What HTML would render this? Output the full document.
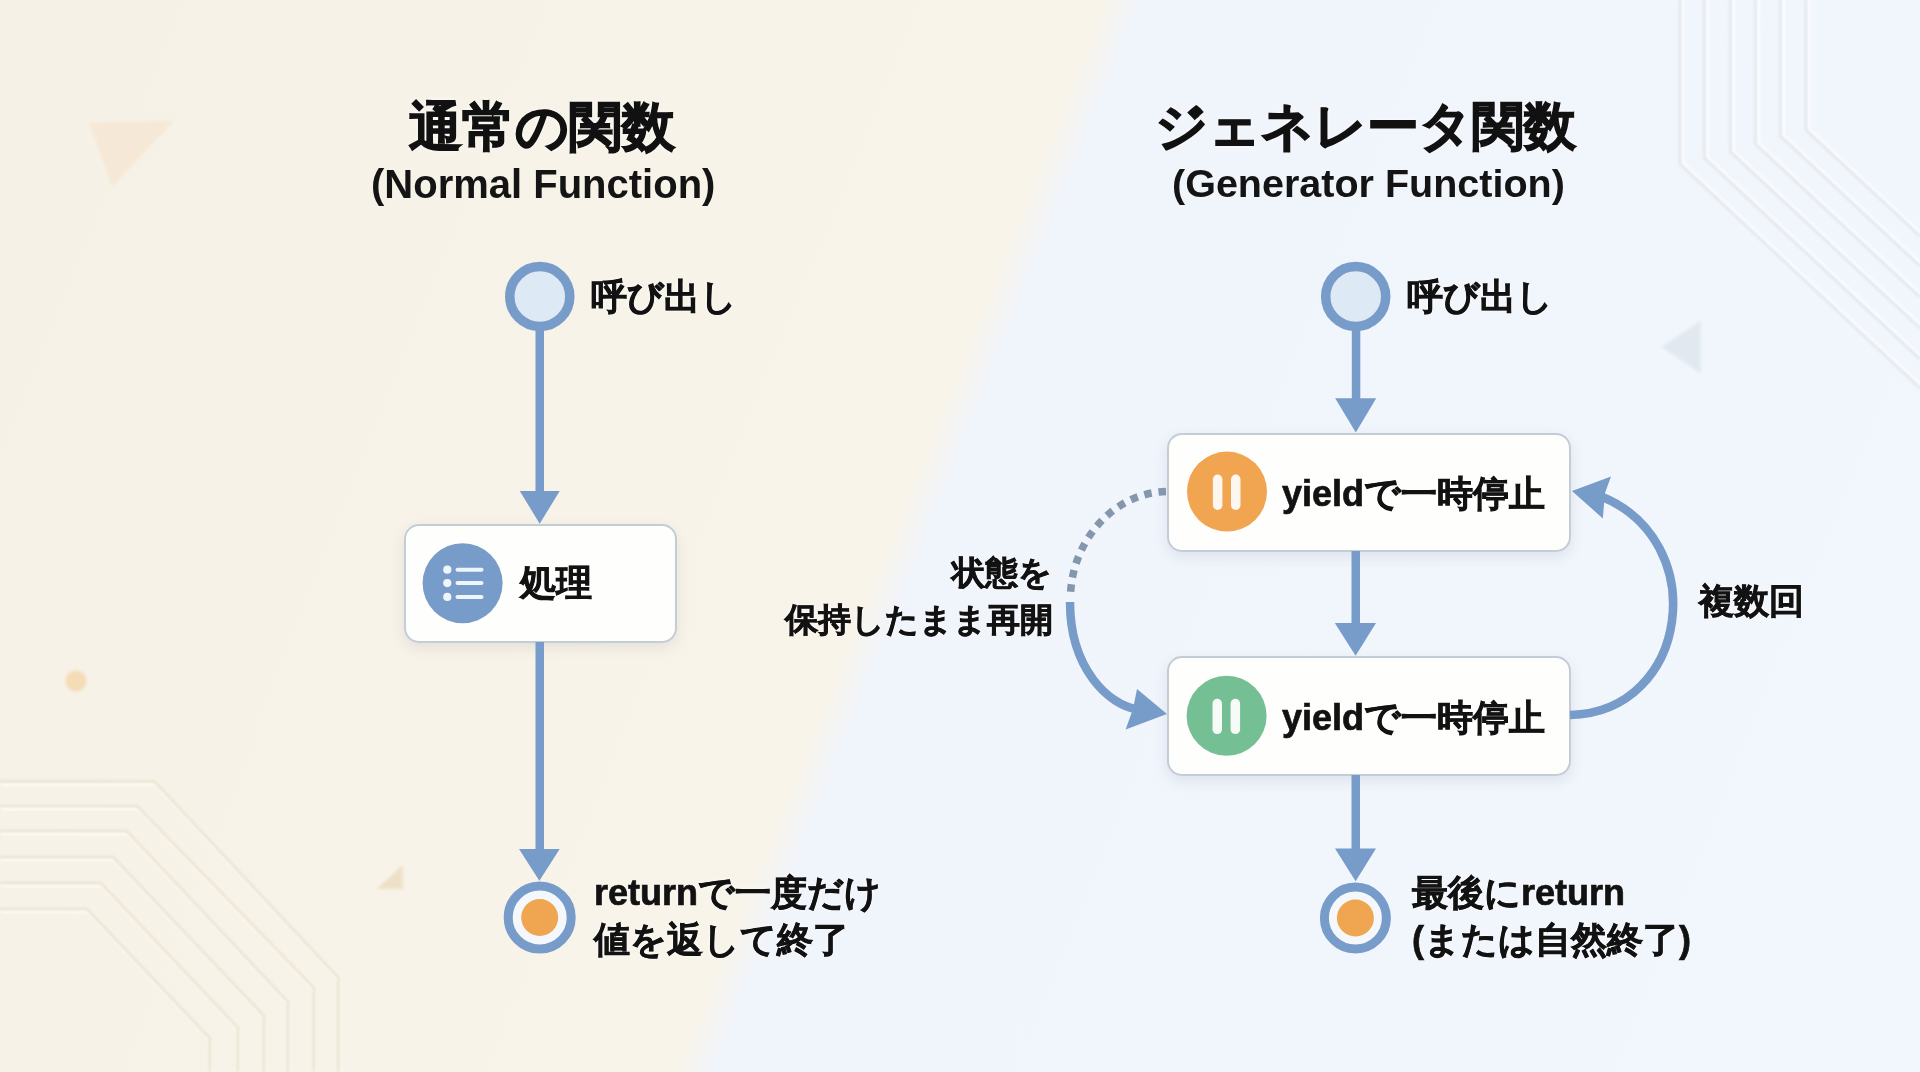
<!DOCTYPE html>
<html><head><meta charset="utf-8">
<style>
html,body{margin:0;padding:0;}
body{width:1920px;height:1072px;overflow:hidden;position:relative;
font-family:"Liberation Sans",sans-serif;color:#141414;
background:linear-gradient(111.8deg,#f6f1e6 0%,#f8f4ea 47.0%,#f0f4fb 48.7%,#f2f6fd 100%);}
svg{position:absolute;left:0;top:0;}
.t{position:absolute;white-space:nowrap;font-weight:bold;line-height:1;}
.cj{-webkit-text-stroke:0.7px #121212;color:#121212;text-shadow:0 0 4px rgba(255,255,255,0.85);}
.ti{-webkit-text-stroke:1.3px #111;color:#111;text-shadow:0 0 5px rgba(255,255,255,0.85);}
.box{position:absolute;box-sizing:border-box;background:#fefefd;border:2px solid #c3cdd6;border-radius:15px;
box-shadow:0 5px 14px rgba(60,70,90,0.10);}
</style></head><body>
<svg width="1920" height="1072" viewBox="0 0 1920 1072">
<!-- decorations -->
<defs><filter id="bl" x="-5%" y="-5%" width="110%" height="110%"><feGaussianBlur stdDeviation="0.8"/></filter>
<filter id="bl2" x="-50%" y="-50%" width="200%" height="200%"><feGaussianBlur stdDeviation="1.5"/></filter></defs>
<g filter="url(#bl)">
<g fill="none" stroke="#fbfcfe" stroke-width="3" transform="translate(3,-1)">
<path d="M1680 0 V164 L1920 388"/><path d="M1704.5 0 V158 L1920 359"/><path d="M1730.6 0 V152 L1920 328"/>
<path d="M1755.5 0 V144 L1920 297"/><path d="M1780.5 0 V136 L1920 266"/><path d="M1806 0 V130 L1920 236"/>
</g>
<g fill="none" stroke="#e2e7ed" stroke-width="2.6">
<path d="M1680 0 V164 L1920 388"/><path d="M1704.5 0 V158 L1920 359"/><path d="M1730.6 0 V152 L1920 328"/>
<path d="M1755.5 0 V144 L1920 297"/><path d="M1780.5 0 V136 L1920 266"/><path d="M1806 0 V130 L1920 236"/>
</g>
<g fill="none" stroke="#fdfaf4" stroke-width="3" transform="translate(1,3)">
<path d="M0 781.6 H154.5 L338.5 978 V1072"/><path d="M0 806 H137 L314 988 V1072"/><path d="M0 831 H126.7 L288 1002 V1072"/>
<path d="M0 857 H113 L264 1016 V1072"/><path d="M0 883 H100.7 L238 1028 V1072"/><path d="M0 909 H86.8 L210 1038.5 V1072"/>
</g>
<g fill="none" stroke="#ece3d2" stroke-width="2.6">
<path d="M0 781.6 H154.5 L338.5 978 V1072"/><path d="M0 806 H137 L314 988 V1072"/><path d="M0 831 H126.7 L288 1002 V1072"/>
<path d="M0 857 H113 L264 1016 V1072"/><path d="M0 883 H100.7 L238 1028 V1072"/><path d="M0 909 H86.8 L210 1038.5 V1072"/>
</g>
</g>
<polygon points="89.6,123 173.5,121 112,186.6" fill="#f5e8d6" filter="url(#bl2)"/>
<polygon points="1661.6,347 1700.7,321 1700.7,373" fill="#e1e8f0" filter="url(#bl2)"/>
<polygon points="376.7,889 402.8,865 402.8,889" fill="#eee0c6" filter="url(#bl2)"/>
<circle cx="76" cy="681" r="10.5" fill="#f3dcb6" filter="url(#bl2)"/>
</svg>

<!-- boxes -->
<div class="box" style="left:404px;top:524px;width:273px;height:119px;"></div>
<div class="box" style="left:1167px;top:433px;width:404px;height:119px;"></div>
<div class="box" style="left:1167px;top:656px;width:404px;height:120px;"></div>

<svg width="1920" height="1072" viewBox="0 0 1920 1072">
<g fill="#779cc9" stroke="none">
<!-- left flow -->
<rect x="535.5" y="330" width="8.5" height="165"/>
<polygon points="519.8,491 559.7,491 539.7,523.8"/>
<rect x="535.5" y="642" width="8.5" height="210"/>
<polygon points="519,849 559.7,849 539.4,880.8"/>
<!-- right flow -->
<rect x="1351.8" y="330" width="8.5" height="70"/>
<polygon points="1335.2,398.3 1376.2,398.3 1355.8,432.5"/>
<rect x="1351.5" y="551" width="8.5" height="74"/>
<polygon points="1334.8,623 1376,623 1355.6,655.8"/>
<rect x="1351.5" y="775" width="8.5" height="76"/>
<polygon points="1335,848.4 1376,848.4 1355.6,881.2"/>
</g>
<!-- start circles -->
<circle cx="539.8" cy="296.5" r="30" fill="#dde9f4" stroke="#779cc9" stroke-width="9.5"/>
<circle cx="1355.7" cy="296.5" r="30" fill="#dde9f4" stroke="#779cc9" stroke-width="9.5"/>
<!-- end circles -->
<circle cx="539.7" cy="917.5" r="31.5" fill="#f4f7fb" stroke="#779cc9" stroke-width="9"/>
<circle cx="539.7" cy="917.5" r="18.5" fill="#f0a550"/>
<circle cx="1355.4" cy="918" r="31" fill="#f4f7fb" stroke="#779cc9" stroke-width="9"/>
<circle cx="1355.4" cy="918" r="18.5" fill="#f0a550"/>

<!-- list icon -->
<circle cx="462.6" cy="583.2" r="40" fill="#779cc9"/>
<g fill="#eef6fc">
<circle cx="447.3" cy="569.7" r="4.1"/><circle cx="447.3" cy="583.1" r="4.1"/><circle cx="447.3" cy="596.9" r="4.1"/>
</g>
<g stroke="#eef6fc" stroke-width="4" stroke-linecap="round">
<line x1="457.5" y1="569.7" x2="481.5" y2="569.7"/>
<line x1="457.5" y1="583.1" x2="481.5" y2="583.1"/>
<line x1="457.5" y1="596.9" x2="481.5" y2="596.9"/>
</g>
<!-- pause icons -->
<circle cx="1227" cy="491.6" r="40" fill="#f1a550"/>
<rect x="1212.9" y="474.6" width="9.5" height="35.3" rx="4.7" fill="#fdf7ef"/>
<rect x="1231" y="474.6" width="9.5" height="35.3" rx="4.7" fill="#fdf7ef"/>
<circle cx="1226.6" cy="715.8" r="40" fill="#74bf94"/>
<rect x="1212.5" y="698.8" width="9.5" height="35.3" rx="4.7" fill="#f7fbf7"/>
<rect x="1230.6" y="698.8" width="9.5" height="35.3" rx="4.7" fill="#f7fbf7"/>

<!-- right loop arc -->
<path d="M1570 715 C1690 712 1712 540 1600 496" fill="none" stroke="#779cc9" stroke-width="8.6"/>
<polygon points="1572,491 1611,476.6 1605,493 1602.8,518.4" fill="#779cc9"/>
<!-- left resume arc -->
<path d="M1166 491.5 C1109.8 493.1 1070.3 545.8 1070.5 598" fill="none" stroke="#8497ad" stroke-width="7.5" stroke-dasharray="7.5 6.9"/>
<path d="M1070 602 C1070 670 1110 705 1136 709" fill="none" stroke="#779cc9" stroke-width="8.5"/>
<polygon points="1167,714 1137,689 1133,709 1125.6,729.4" fill="#779cc9"/>
</svg>

<!-- texts -->
<div class="t ti" style="left:409px;top:100px;font-size:53px;">通常の関数</div>
<div class="t" style="left:371px;top:164px;font-size:40px;">(Normal Function)</div>
<div class="t ti" style="left:1155px;top:100px;font-size:52.3px;">ジェネレータ関数</div>
<div class="t" style="left:1172px;top:164px;font-size:39.5px;">(Generator Function)</div>

<div class="t cj" style="left:591px;top:279px;font-size:36px;">呼び出し</div>
<div class="t cj" style="left:1407px;top:279px;font-size:36px;">呼び出し</div>

<div class="t cj" style="left:520px;top:565px;font-size:36px;">処理</div>

<div class="t cj" style="left:1282px;top:476px;font-size:36px;">yieldで一時停止</div>
<div class="t cj" style="left:1282px;top:700px;font-size:36px;">yieldで一時停止</div>

<div class="t cj" style="left:594px;top:875px;font-size:36px;">returnで一度だけ</div>
<div class="t cj" style="left:594px;top:922px;font-size:36px;">値を返して終了</div>

<div class="t cj" style="left:1412px;top:875px;font-size:36px;">最後にreturn</div>
<div class="t cj" style="left:1412px;top:922px;font-size:36px;">(または自然終了)</div>

<div class="t cj" style="left:952px;top:556px;font-size:33px;">状態を</div>
<div class="t cj" style="left:785px;top:603px;font-size:33px;">保持したまま再開</div>

<div class="t cj" style="left:1699px;top:583px;font-size:35px;">複数回</div>
</body></html>
